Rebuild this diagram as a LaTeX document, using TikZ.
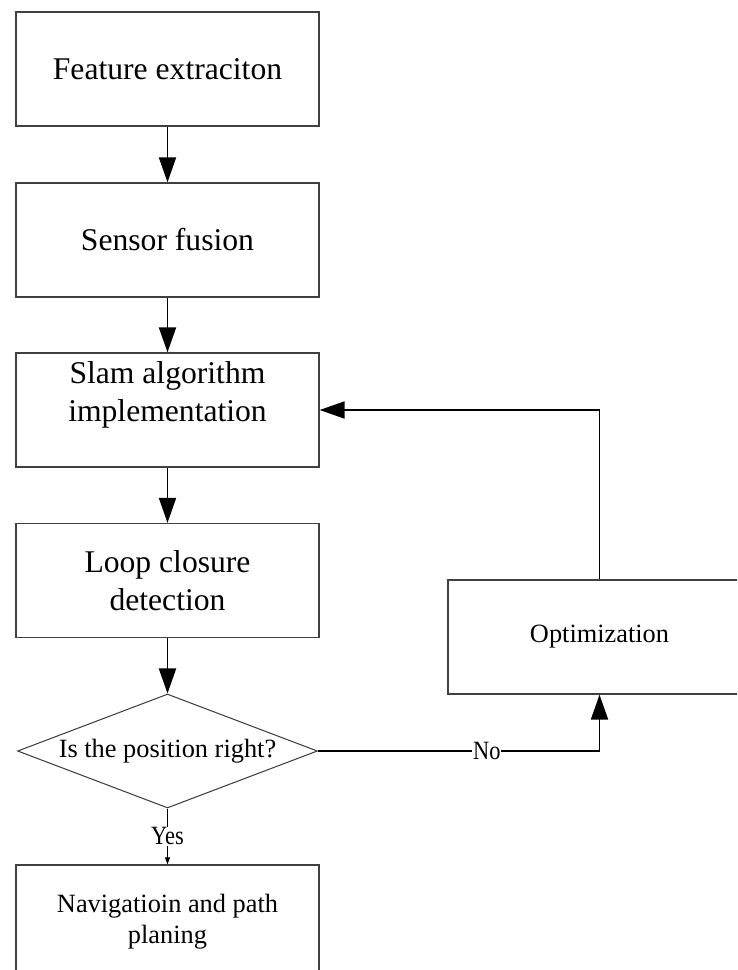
\documentclass[tikz,border=0pt]{standalone}
\usepackage{fontspec}
\setmainfont{Liberation Serif}
\newfontfamily\ynfont[FakeStretch=0.85]{Liberation Serif}
\usetikzlibrary{arrows.meta, positioning, shapes.geometric}
\def\bigtxt{\fontsize{18}{21.5}\selectfont}
\def\smalltxt{\fontsize{15}{17.5}\selectfont}

\begin{document}
\begin{tikzpicture}[x=0.02cm, y=-0.02cm,
    stepbox/.style={draw=black!75, line width=0.75pt, minimum width=6.06cm, minimum height=2.28cm, align=center, inner sep=0pt},
    decbox/.style={draw=black!75, line width=0.6pt, diamond, aspect=2.63, minimum width=6cm, minimum height=2.28cm, inner sep=0pt},
    flow/.style={line width=1.1pt, -{Triangle[length=0.5cm, width=0.34cm]}},
    yn/.style={fill=white, inner sep=0.5pt, font=\ynfont\smalltxt}]
    \useasboundingbox (0, 0) rectangle (737, 970);
    \clip (0, 0) rectangle (737, 970);
    \node[stepbox, font=\bigtxt] (feat) at (167.5, 69) {Feature extraciton};
    \node[stepbox, font=\bigtxt] (fus) at (167.5, 240) {Sensor fusion};
    \node[stepbox] (slam) at (167.5, 410) {};
    \node[align=center, font=\bigtxt] (slamtxt) at (167.5, 395) {Slam algorithm\\implementation};
    \node[stepbox, font=\bigtxt] (loop) at (167.5, 580.5) {Loop closure\\detection};
    \node[decbox, font=\smalltxt] (dec) at (167.5, 751) {Is the position right?};
    \node[stepbox, font=\smalltxt] (nav) at (167.5, 922) {Navigatioin and path\\planing};
    \node[stepbox, font=\smalltxt] (opt) at (599.5, 637) {Optimization};
    \draw[flow] (feat) -- (fus);
    \draw[flow] (fus) -- (slam);
    \draw[flow] (slam) -- (loop);
    \draw[flow] (loop) -- (dec);
    \draw[line width=0.6pt, -{Triangle[length=0.14cm, width=0.1cm]}] (dec.south) -- node[yn] (yes) {Yes} (nav.north);
    \draw[flow] (dec.east) -| node[yn, pos=0.3] (no) {No} (opt.south);
    \draw[flow] (opt.north) |- (slam.east);
\end{tikzpicture}
\end{document}
